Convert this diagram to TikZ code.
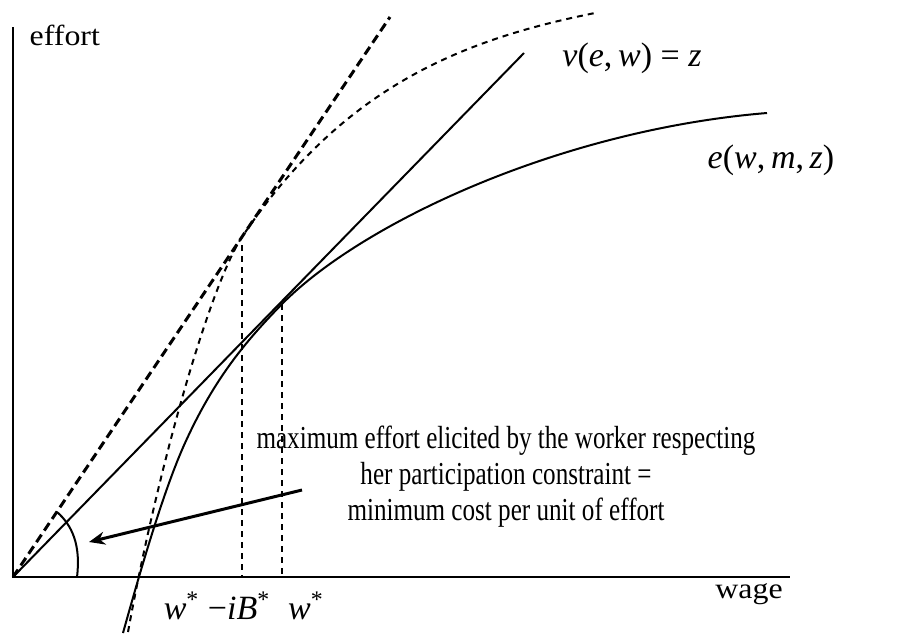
\documentclass[tikz,border=0pt]{standalone}
\usepackage{fontspec}
\setmainfont{Liberation Serif}
\newfontfamily\notefont[FakeStretch=0.785]{Liberation Serif}
\newfontfamily\axisfont[FakeStretch=1.1]{Liberation Serif}
\usetikzlibrary{arrows.meta}

\newcommand{\mi}[1]{\textit{#1}}

\begin{document}
\begin{tikzpicture}[x=0.5pt,y=-0.5pt,line width=1pt,>={Stealth[length=8pt,width=6.5pt]},
    bolddash/.style={line width=1.5pt,dash pattern=on 4.5pt off 2.5pt},
    curvedash/.style={line width=1pt,dash pattern=on 3pt off 2.5pt},
    guide/.style={line width=1pt,dash pattern=on 3pt off 2.5pt},
    pointer/.style={->,line width=1.5pt},
    axislabel/.style={font=\axisfont\fontsize{14.5}{17}\selectfont},
    mathlabel/.style={font=\fontsize{17}{20}\selectfont},
    notelabel/.style={align=center,font=\notefont\fontsize{16}{18}\selectfont}]
  \useasboundingbox (0,0) rectangle (903,633);

  % axes
  \coordinate (O) at (13,577);
  \coordinate (ytop) at (13,27);
  \coordinate (xend) at (790,577);
  \draw (ytop) -- (O) -- (xend);

  % rays from the origin
  \coordinate (rayA) at (390,17);
  \coordinate (rayB) at (524,53);
  \draw[bolddash] (O) -- (rayA);
  \draw (O) -- (rayB);

  % the two effort curves
  \coordinate (tA) at (242,237);
  \coordinate (tB) at (282,304);
  \draw[curvedash] (128,632) .. controls (160,456) and (212,282) .. (tA)
                   .. controls (342,88) and (460,40) .. (595,13);
  \draw (123,633) .. controls (143,561) and (165,487) .. (185,443)
                  .. controls (215,377) and (247,340) .. (tB)
                  .. controls (362,223) and (560,130) .. (767,113);

  % drop lines
  \draw[guide] ([yshift=-4pt]tA) -- (tA |- O);
  \draw[guide] (tB) -- (tB |- O);

  % angle mark
  \draw (77,577) .. controls (81,545) and (72,525) .. (57,512);

  % labels
  \node[axislabel,anchor=west] (ylab) at (22,35) {effort};
  \node[axislabel] (xlab) at (749,594) {wage};
  \node[mathlabel] (vlab) at (632,58) {\mi{v}(\mi{e},\,\mi{w}) = \mi{z}};
  \node[mathlabel] (elab) at (771,160) {\mi{e}(\mi{w},\,\mi{m},\,\mi{z})};
  \node[mathlabel] (wib) at (217,606) {\mi{w}\textsuperscript{*} −\mi{iB}\textsuperscript{*}};
  \node[mathlabel] (ws) at (306,606) {\mi{w}\textsuperscript{*}};
  \node[notelabel] (note) at (506,477)
    {maximum effort elicited by the worker respecting\\
     her participation constraint =\\
     minimum cost per unit of effort};

  \coordinate (tail) at (302,490);
  \coordinate (tip) at (89,542);
  \draw[pointer] (tail) -- (tip);
\end{tikzpicture}
\end{document}
